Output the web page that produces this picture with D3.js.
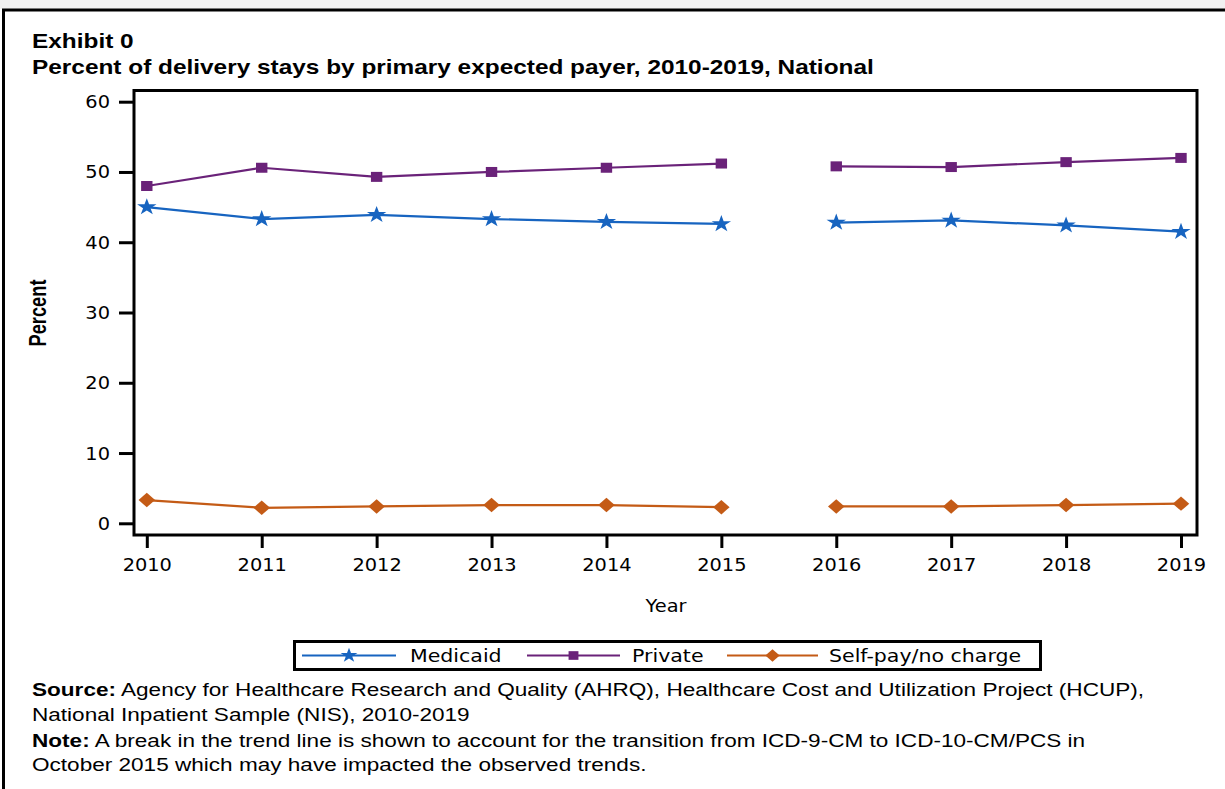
<!DOCTYPE html>
<html>
<head>
<meta charset="utf-8">
<script src="https://cdn.jsdelivr.net/npm/d3@7"></script>
<style>
  html, body { margin: 0; padding: 0; background: #ffffff; }
  svg { display: block; }
</style>
</head>
<body>
<svg id="chart" width="1225" height="789"></svg>
<script>
// ---------------- data ----------------
const years = [2010, 2011, 2012, 2013, 2014, 2015, 2016, 2017, 2018, 2019];
const medicaid = [45.0, 43.3, 43.9, 43.3, 42.9, 42.6, 42.8, 43.1, 42.4, 41.5];
const privatePay = [48.0, 50.6, 49.3, 50.0, 50.6, 51.2, 50.8, 50.7, 51.4, 52.0];
const selfPay = [3.3, 2.2, 2.4, 2.6, 2.6, 2.3, 2.4, 2.4, 2.6, 2.8];
const breakAfterYear = 2015;
const yTicks = [0, 10, 20, 30, 40, 50, 60];
const seriesNames = ["Medicaid", "Private", "Self-pay/no charge"];
const seriesColors = ["#1764c0", "#6a2279", "#c45b16"];
const titleLines = ["Exhibit 0", "Percent of delivery stays by primary expected payer, 2010-2019, National"];
const sourceText = ["Source:", " Agency for Healthcare Research and Quality (AHRQ), Healthcare Cost and Utilization Project (HCUP),", "National Inpatient Sample (NIS), 2010-2019"];
const noteText = ["Note:", " A break in the trend line is shown to account for the transition from ICD-9-CM to ICD-10-CM/PCS in", "October 2015 which may have impacted the observed trends."];

// ---------------- setup ----------------
const svg = d3.select("#chart");
const SX_ARIAL = 1.22;
const SX_VERD = 1.14;
const VERD = "'DejaVu Sans', Verdana, sans-serif";
const ARIAL = "'Liberation Sans', Arial, sans-serif";

// top grey strip and outer frame
svg.append("rect").attr("x", 0).attr("y", 0).attr("width", 1225).attr("height", 9).attr("fill", "#f1f1f1");
svg.append("path").attr("d", "M3.5,789 V10 H1225").attr("fill", "none").attr("stroke", "#000").attr("stroke-width", 3);

function stretchedText(x, y, sx, opts) {
  return svg.append("text")
    .attr("transform", `translate(${x},${y}) scale(${sx},1)`)
    .attr("font-family", opts.family)
    .attr("font-size", opts.size)
    .attr("font-weight", opts.weight || "normal")
    .attr("fill", "#000");
}

// titles
stretchedText(32, 48, SX_ARIAL, {family: ARIAL, size: 20, weight: "bold"}).text(titleLines[0]);
stretchedText(32, 74, SX_ARIAL, {family: ARIAL, size: 20, weight: "bold"}).text(titleLines[1]);

// scales
const x = d3.scaleLinear().domain([years[0], years[years.length - 1]]).range([146.8, 1181]);
const y = d3.scaleLinear().domain([0, 60]).range([523.3, 101.7]);

// plot frame
const frame = {x0: 134, x1: 1197, y0: 90.5, y1: 535};
svg.append("rect")
  .attr("x", frame.x0).attr("y", frame.y0)
  .attr("width", frame.x1 - frame.x0).attr("height", frame.y1 - frame.y0)
  .attr("fill", "none").attr("stroke", "#000").attr("stroke-width", 3);

// y axis
const yAxis = svg.append("g")
  .attr("transform", `translate(${frame.x0},0)`)
  .call(d3.axisLeft(y).tickValues(yTicks).tickSize(15).tickPadding(9).tickFormat(d3.format("d")));
yAxis.select(".domain").remove();
yAxis.selectAll(".tick line").attr("stroke", "#000").attr("stroke-width", 3);
yAxis.selectAll(".tick text")
  .attr("font-family", VERD).attr("font-size", 17).attr("fill", "#000")
  .attr("x", null).attr("dy", null)
  .attr("transform", `translate(-24,6) scale(${SX_VERD},1)`);

// x axis
const xAxis = svg.append("g")
  .attr("transform", `translate(0,${frame.y1})`)
  .call(d3.axisBottom(x).tickValues(years).tickSize(13).tickFormat(d3.format("d")));
xAxis.select(".domain").remove();
xAxis.selectAll(".tick line").attr("stroke", "#000").attr("stroke-width", 3);
xAxis.selectAll(".tick text")
  .attr("font-family", VERD).attr("font-size", 17).attr("fill", "#000")
  .attr("y", null).attr("dy", null)
  .attr("transform", `translate(0,36) scale(${SX_VERD},1)`);

// axis titles
stretchedText(666, 612, SX_VERD, {family: VERD, size: 17}).attr("text-anchor", "middle").text("Year");
svg.append("text")
  .attr("transform", "translate(46,313) rotate(-90) scale(1,1.22)")
  .attr("text-anchor", "middle")
  .attr("font-family", ARIAL).attr("font-size", 19).attr("font-weight", "bold")
  .attr("textLength", 67).attr("lengthAdjust", "spacingAndGlyphs")
  .text("Percent");

// markers
const symbols = [d3.symbolStar, d3.symbolSquare, d3.symbolSquare];
const symbolSizes = [90, 100, 105];
const symbolRot = [0, 0, 45];
function markerPath(i, scale) {
  return d3.symbol().type(symbols[i]).size(symbolSizes[i] * scale)();
}

// series
const seriesValues = [medicaid, privatePay, selfPay];
const line = d3.line().x(d => x(d.year)).y(d => y(d.value));
seriesValues.forEach((vals, i) => {
  const pts = years.map((yr, j) => ({year: yr, value: vals[j]}));
  const segments = [pts.filter(p => p.year <= breakAfterYear), pts.filter(p => p.year > breakAfterYear)];
  const g = svg.append("g");
  segments.forEach(seg => {
    g.append("path").datum(seg).attr("d", line)
      .attr("fill", "none").attr("stroke", seriesColors[i]).attr("stroke-width", 2.2);
  });
  g.selectAll("path.m").data(pts).enter().append("path")
    .attr("class", "m")
    .attr("d", markerPath(i, 1))
    .attr("transform", d => `translate(${x(d.year)},${y(d.value)}) scale(1.14,1) rotate(${symbolRot[i]})`)
    .attr("fill", seriesColors[i]);
});

// legend
const legBox = {x: 294.5, y: 641.5, w: 746, h: 28};
svg.append("rect").attr("x", legBox.x).attr("y", legBox.y).attr("width", legBox.w).attr("height", legBox.h)
  .attr("fill", "#fff").attr("stroke", "#000").attr("stroke-width", 3);
const legLineX = [[302, 396], [527, 620], [727, 818]];
const legTextX = [410, 632, 829];
seriesNames.forEach((name, i) => {
  const cy = legBox.y + legBox.h / 2;
  svg.append("line").attr("x1", legLineX[i][0]).attr("x2", legLineX[i][1]).attr("y1", cy).attr("y2", cy)
    .attr("stroke", seriesColors[i]).attr("stroke-width", 2.2);
  svg.append("path").attr("d", markerPath(i, 0.75))
    .attr("transform", `translate(${(legLineX[i][0] + legLineX[i][1]) / 2},${cy}) scale(1.14,1) rotate(${symbolRot[i]})`)
    .attr("fill", seriesColors[i]);
  stretchedText(legTextX[i], cy + 6.5, SX_VERD, {family: VERD, size: 18}).text(name);
});

// footer
function footerLine(yb, boldPart, rest) {
  const t = stretchedText(32, yb, SX_ARIAL, {family: ARIAL, size: 18.5});
  if (boldPart) t.append("tspan").attr("font-weight", "bold").text(boldPart);
  t.append("tspan").text(rest);
}
footerLine(696, sourceText[0], sourceText[1]);
footerLine(721, null, sourceText[2]);
footerLine(747, noteText[0], noteText[1]);
footerLine(771, null, noteText[2]);
</script>
</body>
</html>
